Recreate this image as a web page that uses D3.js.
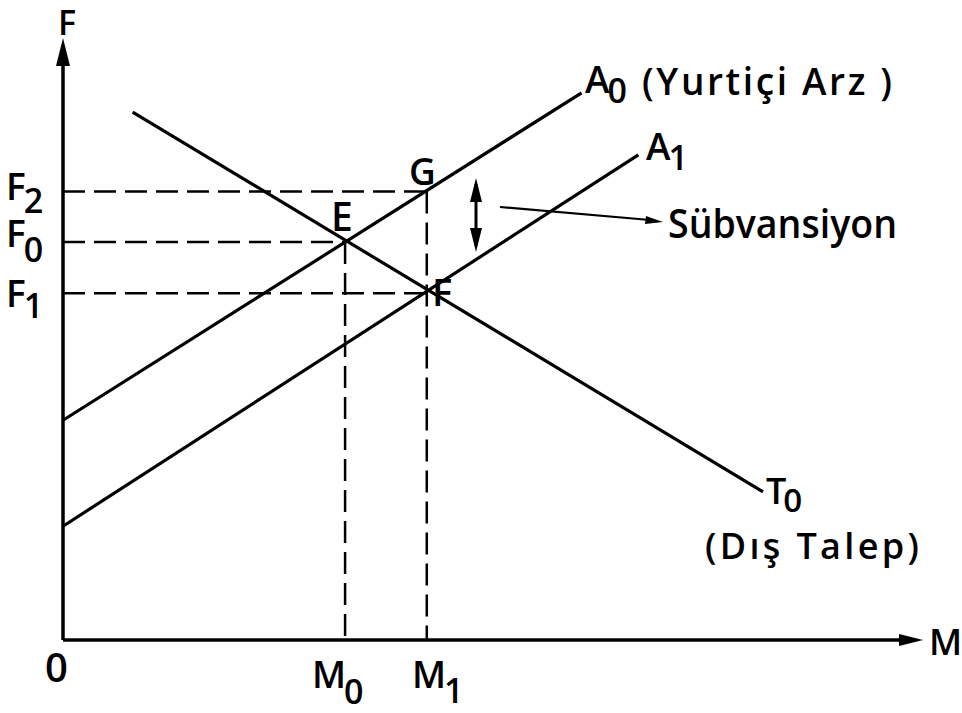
<!DOCTYPE html>
<html>
<head>
<meta charset="utf-8">
<script src="https://cdn.jsdelivr.net/npm/d3@7"></script>
<style>
  body { margin: 0; background: #fff; }
  text { font-family: "Open Sans", "DejaVu Sans", sans-serif; font-weight: 600; fill: #000; }
</style>
</head>
<body>
<div id="chart"></div>
<script>
// curves (M, F), arbitrary units 0..100
var supplyA0 = [[0, 36.5], [60.3, 90.9]];
var supplyA1 = [[0, 18.9], [66.9, 80.6]];
var demandT0 = [[8.1, 87.7], [81.4, 24.6]];

// guide levels
var priceNames = ["F2", "F0", "F1"];
var priceLevels = [74.5, 66.1, 57.6];
var priceEnds = [42.3, 32.8, 42.3];
var qtyNames = ["M0", "M1"];
var qtyLevels = [32.8, 42.3];
var qtyTops = [66.1, 74.5];

var width = 962, height = 713;
var svg = d3.select("#chart").append("svg").attr("width", width).attr("height", height);

var x = d3.scaleLinear().domain([0, 100]).range([63, 923]);
var y = d3.scaleLinear().domain([0, 100]).range([640, 38]);

var line = d3.line().x(d => x(d[0])).y(d => y(d[1]));

// dashed guides
priceLevels.forEach(function(p, i) {
    svg.append("line").attr("x1", x(0)).attr("x2", x(priceEnds[i])).attr("y1", y(p)).attr("y2", y(p))
        .attr("stroke", "#000").attr("stroke-width", 2.5).attr("stroke-dasharray", "22,9");
});
qtyLevels.forEach(function(m, i) {
    svg.append("line").attr("x1", x(m)).attr("x2", x(m)).attr("y1", y(qtyTops[i])).attr("y2", y(0))
        .attr("stroke", "#000").attr("stroke-width", 2.5).attr("stroke-dasharray", "22,9");
});

// axes
svg.append("line").attr("x1", x(0)).attr("x2", x(0)).attr("y1", y(0)).attr("y2", y(100) + 20)
    .attr("stroke", "#000").attr("stroke-width", 3.5);
svg.append("line").attr("x1", x(0)).attr("x2", x(100) - 20).attr("y1", y(0)).attr("y2", y(0))
    .attr("stroke", "#000").attr("stroke-width", 3.5);
svg.append("path").attr("d", `M${x(0)},${y(100)} L${x(0) - 7},${y(100) + 28} L${x(0) + 7},${y(100) + 28} Z`).attr("fill", "#000");
svg.append("path").attr("d", `M${x(100)},${y(0)} L${x(100) - 24},${y(0) - 6} L${x(100) - 24},${y(0) + 6} Z`).attr("fill", "#000");

// curves
[supplyA0, supplyA1, demandT0].forEach(function(c) {
    svg.append("path").datum(c).attr("fill", "none").attr("stroke", "#000").attr("stroke-width", 3.2).attr("d", line);
});

// subsidy double arrow and pointer
svg.append("line").attr("x1", 476).attr("x2", 476).attr("y1", 184).attr("y2", 246).attr("stroke", "#000").attr("stroke-width", 3);
svg.append("path").attr("d", "M476,178 L470,202 L482,202 Z").attr("fill", "#000");
svg.append("path").attr("d", "M476,252 L470,228 L482,228 Z").attr("fill", "#000");
svg.append("line").attr("x1", 500).attr("x2", 650).attr("y1", 207).attr("y2", 220).attr("stroke", "#000").attr("stroke-width", 2.2);
svg.append("path").attr("d", "M663,222 L646,216 L645,224 Z").attr("fill", "#000");

function label(px, py, main, sub, size, dy, dx) {
    var t = svg.append("text").attr("x", px).attr("y", py).style("font-size", size + "px").text(main);
    if (sub) t.append("tspan").attr("dx", dx || -2).attr("dy", dy).style("font-size", (size * 0.92) + "px").text(sub);
    return t;
}

label(58, 35, "F", null, 34);
label(6, 200, priceNames[0][0], priceNames[0][1], 37, 13);
label(6, 247, priceNames[1][0], priceNames[1][1], 37, 15);
label(6, 307, priceNames[2][0], priceNames[2][1], 37, 11);
label(331, 231, "E", null, 39);
label(409, 185, "G", null, 37);
label(432, 306, "F", null, 38);
label(585, 93, "A", "0", 37, 10);
label(642, 95, "(Yurtiçi Arz )", null, 37).attr("textLength", 250).attr("lengthAdjust", "spacing");
label(646, 160, "A", "1", 37, 10);
label(766, 504, "T", "0", 36, 8, -3);
label(705, 559, "(Dış Talep)", null, 36).attr("textLength", 214).attr("lengthAdjust", "spacing");
label(668, 238, "Sübvansiyon", null, 39).attr("textLength", 229).attr("lengthAdjust", "spacingAndGlyphs");
label(45, 682, "0", null, 40);
label(312, 688, qtyNames[0][0], qtyNames[0][1], 37, 16);
label(412, 688, qtyNames[1][0], qtyNames[1][1], 37, 15);
label(929, 655, "M", null, 36);
</script>
</body>
</html>
